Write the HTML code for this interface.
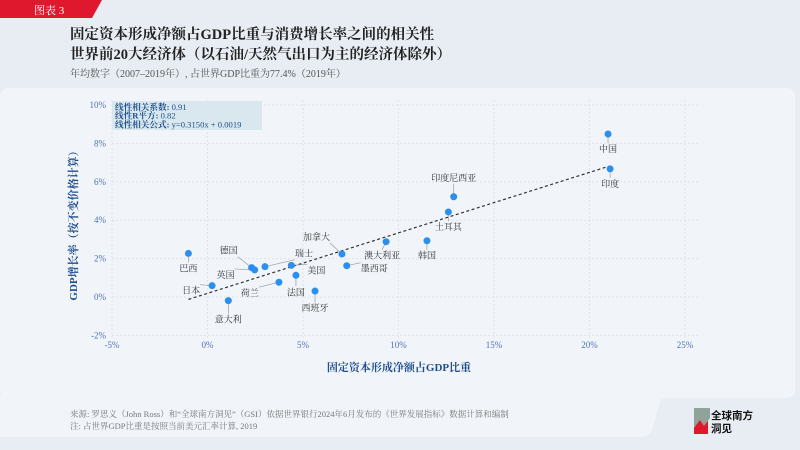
<!DOCTYPE html>
<html><head><meta charset="utf-8"><style>
body{margin:0;width:800px;height:450px;overflow:hidden;background:#e7edf3;font-family:"Liberation Serif","Noto Serif CJK SC",serif;position:relative}
.abs{position:absolute}
</style></head><body>
<svg class="abs" style="left:0;top:0" width="800" height="450">
<rect x="0" y="88" width="795" height="310" rx="8" fill="#f1f5fa"/>
<path d="M0 395 H795 V380 Q795 392 780 392 H672 Q662 392 660 402 L652 430 Q650 437 640 437 H0 Z" fill="#f1f5fa"/>
<path d="M0 0 H102 L92 18 H0 Z" fill="#e0182d"/>
<text x="34" y="14" font-size="11" fill="#fff">图表 3</text>
<text x="70" y="39" font-size="14.5" font-weight="bold" fill="#222">固定资本形成净额占GDP比重与消费增长率之间的相关性</text>
<text x="70" y="59" font-size="14.5" font-weight="bold" fill="#222">世界前20大经济体（以石油/天然气出口为主的经济体除外）</text>
<text x="70" y="77" font-size="10" fill="#555">年均数字（2007–2019年）, 占世界GDP比重为77.4%（2019年）</text>
<g id="plot"></g>
<text x="399" y="371" font-size="11" font-weight="bold" fill="#1f4e8c" text-anchor="middle">固定资本形成净额占GDP比重</text>
<text transform="translate(77,223) rotate(-90)" font-size="11" font-weight="bold" fill="#1f4e8c" text-anchor="middle">GDP增长率（按不变价格计算）</text>
<text x="70" y="417" font-size="8.5" fill="#777">来源: 罗思义（John Ross）和“全球南方洞见”（GSI）依据世界银行2024年6月发布的《世界发展指标》数据计算和编制</text>
<text x="70" y="429" font-size="8.5" fill="#777">注:    占世界GDP比重是按照当前美元汇率计算, 2019</text>
<g>
<rect x="694" y="408" width="14" height="26" fill="#e0182d"/>
<path d="M694 408 H710 V418 L704 426 L700 420 L694 428 Z" fill="#8fa39a"/>
<text x="711" y="419" font-size="10.5" font-weight="bold" fill="#111" font-family="Liberation Sans,Noto Sans CJK SC,sans-serif">全球南方</text>
<text x="711" y="432" font-size="10.5" font-weight="bold" fill="#111" font-family="Liberation Sans,Noto Sans CJK SC,sans-serif">洞见</text>
</g>
</svg>
<script>
const countries=["中国","印度","印度尼西亚","土耳其","韩国","澳大利亚","墨西哥","加拿大","西班牙","法国","美国","荷兰","瑞士","英国","德国","意大利","日本","巴西"];
const xVals=[20.97,21.08,12.89,12.61,11.49,9.35,7.29,7.04,5.63,4.63,4.39,3.74,3.01,2.47,2.31,1.09,0.24,-1.0];
const yVals=[8.49,6.67,5.22,4.43,2.93,2.88,1.63,2.24,0.31,1.13,1.65,0.77,1.58,1.41,1.53,-0.19,0.59,2.27];
// label offsets (dx,dy) relative to point
const labOff=[[0,18],[0,18],[0,-16],[0,18],[0,18],[-4,17],[14,6],[-12,-14],[0,20],[0,20],[16,8],[-20,14],[30,-10],[-20,8],[-14,-14],[0,22],[-12,8],[0,18]];
const xTicks=[-5,0,5,10,15,20,25];
const yTicks=[-2,0,2,4,6,8,10];
const slope=0.3150, intercept=0.19;
const X=v=>207.5+v*19.1, Y=v=>297-v*19.2;
const ns="http://www.w3.org/2000/svg", g=document.getElementById('plot');
function mk(t,a){const e=document.createElementNS(ns,t);for(const k in a)e.setAttribute(k,a[k]);g.appendChild(e);return e;}
xTicks.forEach(t=>{const l=mk('line',{x1:X(t),x2:X(t),y1:100,y2:338,stroke:'#dde3ea','stroke-dasharray':'2,2'});


const tx=mk('text',{x:X(t),y:348,'font-size':9,fill:'#4a74b0','text-anchor':'middle'});tx.textContent=t+'%';

});
yTicks.forEach(t=>{const l=mk('line',{x1:112,x2:700,y1:Y(t),y2:Y(t),stroke:'#dde3ea','stroke-dasharray':'2,2'});


const tx=mk('text',{x:106,y:Y(t)+3,'font-size':9,fill:'#4a74b0','text-anchor':'end'});tx.textContent=t+'%';

});
const r=mk('rect',{x:112,y:101,width:150,height:29,fill:'#d8e8ee'});


[["线性相关系数:"," 0.91"],["线性R平方:"," 0.82"],["线性相关公式:"," y=0.3150x + 0.0019"]].forEach((s,i)=>{const t=mk('text',{x:115,y:110+i*8.7,'font-size':8.6,fill:'#1f4e8c'});


t.innerHTML='<tspan font-weight="bold">'+s[0]+'</tspan>'+s[1];});
const x0=-1,x1=21;
const tl=mk('line',{x1:X(x0),y1:Y(slope*x0+intercept),x2:X(x1),y2:Y(slope*x1+intercept),stroke:'#333','stroke-width':1.2,'stroke-dasharray':'3,2.5'});


countries.forEach((c,i)=>{const px=X(xVals[i]),py=Y(yVals[i]),o=labOff[i];
const lx=px+o[0],ly=py+o[1];
const ln=mk('line',{x1:px,y1:py,x2:lx,y2:ly+(o[1]>0?-9:3),stroke:'#999','stroke-width':0.7});


const d=mk('circle',{cx:px,cy:py,r:3.5,fill:'#2b8ff0'});


const t=mk('text',{x:lx,y:ly,'font-size':9,fill:'#333','text-anchor':o[0]>10?'start':(o[0]<-10?'end':'middle')});t.textContent=c;

});
</script>
</body></html>
